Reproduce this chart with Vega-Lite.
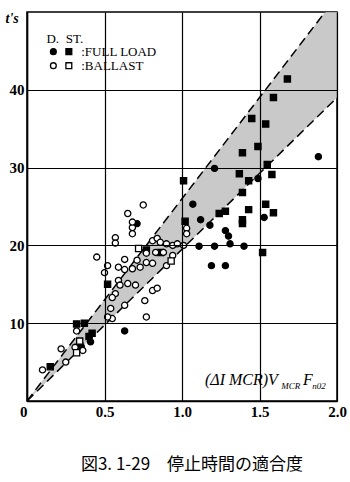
{
  "$schema": "https://vega.github.io/schema/vega-lite/v6.json",
  "width": 310,
  "height": 389,
  "autosize": "none",
  "padding": {"left": 27, "top": 12, "right": 13, "bottom": 81},
  "background": "white",
  "config": {"view": {"stroke": "black", "strokeWidth": 1.5}, "font": "Liberation Serif"},
  "title": {"text": "図3. 1-29　停止時間の適合度", "orient": "bottom", "font": "Noto Sans CJK JP", "fontSize": 17, "fontWeight": "normal", "offset": 38, "dx": 10, "color": "black"},
  "datasets": {
    "band": [{"x": 0, "lo": 0, "hi": 0}, {"x": 1.923, "lo": 37.5, "hi": 50}, {"x": 2.0, "lo": 39, "hi": 50}],
    "upper": [{"x": 0, "y": 0}, {"x": 1.95, "y": 50.7}],
    "lower": [{"x": 0, "y": 0}, {"x": 2.0, "y": 39}],
    "points": [
      {"x": 1.88, "y": 31.4, "type": "D", "load": "FULL LOAD"},
      {"x": 1.21, "y": 29.9, "type": "D", "load": "FULL LOAD"},
      {"x": 1.49, "y": 28.6, "type": "D", "load": "FULL LOAD"},
      {"x": 1.07, "y": 25.3, "type": "D", "load": "FULL LOAD"},
      {"x": 1.12, "y": 23.3, "type": "D", "load": "FULL LOAD"},
      {"x": 1.53, "y": 23.6, "type": "D", "load": "FULL LOAD"},
      {"x": 1.18, "y": 22.6, "type": "D", "load": "FULL LOAD"},
      {"x": 1.28, "y": 21.9, "type": "D", "load": "FULL LOAD"},
      {"x": 1.30, "y": 21.2, "type": "D", "load": "FULL LOAD"},
      {"x": 1.31, "y": 20.2, "type": "D", "load": "FULL LOAD"},
      {"x": 1.11, "y": 19.9, "type": "D", "load": "FULL LOAD"},
      {"x": 1.21, "y": 19.9, "type": "D", "load": "FULL LOAD"},
      {"x": 1.40, "y": 19.9, "type": "D", "load": "FULL LOAD"},
      {"x": 1.19, "y": 17.4, "type": "D", "load": "FULL LOAD"},
      {"x": 1.28, "y": 17.4, "type": "D", "load": "FULL LOAD"},
      {"x": 0.71, "y": 22.8, "type": "D", "load": "FULL LOAD"},
      {"x": 0.63, "y": 9.0, "type": "D", "load": "FULL LOAD"},
      {"x": 0.34, "y": 7.4, "type": "D", "load": "FULL LOAD"},
      {"x": 0.35, "y": 7.0, "type": "D", "load": "FULL LOAD"},
      {"x": 0.41, "y": 7.6, "type": "D", "load": "FULL LOAD"},
      {"x": 1.68, "y": 41.4, "type": "ST", "load": "FULL LOAD"},
      {"x": 1.59, "y": 39.0, "type": "ST", "load": "FULL LOAD"},
      {"x": 1.45, "y": 36.3, "type": "ST", "load": "FULL LOAD"},
      {"x": 1.54, "y": 35.6, "type": "ST", "load": "FULL LOAD"},
      {"x": 1.49, "y": 32.7, "type": "ST", "load": "FULL LOAD"},
      {"x": 1.39, "y": 31.9, "type": "ST", "load": "FULL LOAD"},
      {"x": 1.55, "y": 30.4, "type": "ST", "load": "FULL LOAD"},
      {"x": 1.58, "y": 29.1, "type": "ST", "load": "FULL LOAD"},
      {"x": 1.43, "y": 28.3, "type": "ST", "load": "FULL LOAD"},
      {"x": 1.37, "y": 29.2, "type": "ST", "load": "FULL LOAD"},
      {"x": 1.01, "y": 28.3, "type": "ST", "load": "FULL LOAD"},
      {"x": 1.39, "y": 26.8, "type": "ST", "load": "FULL LOAD"},
      {"x": 1.54, "y": 25.3, "type": "ST", "load": "FULL LOAD"},
      {"x": 1.43, "y": 24.6, "type": "ST", "load": "FULL LOAD"},
      {"x": 1.59, "y": 24.2, "type": "ST", "load": "FULL LOAD"},
      {"x": 1.24, "y": 24.1, "type": "ST", "load": "FULL LOAD"},
      {"x": 1.28, "y": 24.4, "type": "ST", "load": "FULL LOAD"},
      {"x": 1.39, "y": 23.3, "type": "ST", "load": "FULL LOAD"},
      {"x": 1.39, "y": 22.8, "type": "ST", "load": "FULL LOAD"},
      {"x": 1.52, "y": 19.1, "type": "ST", "load": "FULL LOAD"},
      {"x": 1.02, "y": 23.1, "type": "ST", "load": "FULL LOAD"},
      {"x": 0.77, "y": 19.4, "type": "ST", "load": "FULL LOAD"},
      {"x": 0.86, "y": 19.1, "type": "ST", "load": "FULL LOAD"},
      {"x": 0.52, "y": 15.0, "type": "ST", "load": "FULL LOAD"},
      {"x": 0.32, "y": 9.9, "type": "ST", "load": "FULL LOAD"},
      {"x": 0.37, "y": 10.0, "type": "ST", "load": "FULL LOAD"},
      {"x": 0.42, "y": 8.7, "type": "ST", "load": "FULL LOAD"},
      {"x": 0.40, "y": 8.3, "type": "ST", "load": "FULL LOAD"},
      {"x": 0.15, "y": 4.4, "type": "ST", "load": "FULL LOAD"},
      {"x": 0.75, "y": 25.2, "type": "D", "load": "BALLAST"},
      {"x": 0.65, "y": 24.1, "type": "D", "load": "BALLAST"},
      {"x": 0.68, "y": 22.3, "type": "D", "load": "BALLAST"},
      {"x": 0.68, "y": 21.5, "type": "D", "load": "BALLAST"},
      {"x": 0.68, "y": 23.0, "type": "D", "load": "BALLAST"},
      {"x": 0.57, "y": 21.0, "type": "D", "load": "BALLAST"},
      {"x": 0.57, "y": 20.3, "type": "D", "load": "BALLAST"},
      {"x": 0.45, "y": 18.5, "type": "D", "load": "BALLAST"},
      {"x": 0.52, "y": 17.4, "type": "D", "load": "BALLAST"},
      {"x": 0.50, "y": 16.5, "type": "D", "load": "BALLAST"},
      {"x": 0.63, "y": 18.2, "type": "D", "load": "BALLAST"},
      {"x": 0.59, "y": 17.2, "type": "D", "load": "BALLAST"},
      {"x": 0.63, "y": 16.9, "type": "D", "load": "BALLAST"},
      {"x": 0.68, "y": 17.0, "type": "D", "load": "BALLAST"},
      {"x": 0.71, "y": 18.1, "type": "D", "load": "BALLAST"},
      {"x": 0.73, "y": 17.2, "type": "D", "load": "BALLAST"},
      {"x": 0.59, "y": 15.5, "type": "D", "load": "BALLAST"},
      {"x": 0.65, "y": 15.1, "type": "D", "load": "BALLAST"},
      {"x": 0.70, "y": 14.9, "type": "D", "load": "BALLAST"},
      {"x": 0.60, "y": 14.9, "type": "D", "load": "BALLAST"},
      {"x": 0.57, "y": 13.8, "type": "D", "load": "BALLAST"},
      {"x": 0.55, "y": 13.3, "type": "D", "load": "BALLAST"},
      {"x": 0.63, "y": 12.3, "type": "D", "load": "BALLAST"},
      {"x": 0.54, "y": 11.9, "type": "D", "load": "BALLAST"},
      {"x": 0.55, "y": 10.6, "type": "D", "load": "BALLAST"},
      {"x": 0.52, "y": 10.8, "type": "D", "load": "BALLAST"},
      {"x": 0.77, "y": 10.8, "type": "D", "load": "BALLAST"},
      {"x": 0.76, "y": 12.9, "type": "D", "load": "BALLAST"},
      {"x": 0.81, "y": 14.2, "type": "D", "load": "BALLAST"},
      {"x": 0.84, "y": 14.5, "type": "D", "load": "BALLAST"},
      {"x": 0.77, "y": 17.8, "type": "D", "load": "BALLAST"},
      {"x": 0.81, "y": 17.7, "type": "D", "load": "BALLAST"},
      {"x": 0.90, "y": 17.4, "type": "D", "load": "BALLAST"},
      {"x": 0.81, "y": 20.6, "type": "D", "load": "BALLAST"},
      {"x": 0.84, "y": 20.9, "type": "D", "load": "BALLAST"},
      {"x": 0.86, "y": 20.4, "type": "D", "load": "BALLAST"},
      {"x": 0.90, "y": 20.2, "type": "D", "load": "BALLAST"},
      {"x": 0.94, "y": 20.0, "type": "D", "load": "BALLAST"},
      {"x": 0.97, "y": 20.2, "type": "D", "load": "BALLAST"},
      {"x": 0.77, "y": 19.0, "type": "D", "load": "BALLAST"},
      {"x": 0.83, "y": 19.1, "type": "D", "load": "BALLAST"},
      {"x": 0.88, "y": 19.1, "type": "D", "load": "BALLAST"},
      {"x": 0.94, "y": 18.7, "type": "D", "load": "BALLAST"},
      {"x": 1.01, "y": 20.0, "type": "D", "load": "BALLAST"},
      {"x": 1.03, "y": 22.2, "type": "D", "load": "BALLAST"},
      {"x": 1.03, "y": 21.5, "type": "D", "load": "BALLAST"},
      {"x": 0.32, "y": 9.0, "type": "D", "load": "BALLAST"},
      {"x": 0.22, "y": 6.7, "type": "D", "load": "BALLAST"},
      {"x": 0.25, "y": 5.0, "type": "D", "load": "BALLAST"},
      {"x": 0.10, "y": 4.0, "type": "D", "load": "BALLAST"},
      {"x": 0.31, "y": 6.9, "type": "D", "load": "BALLAST"},
      {"x": 0.36, "y": 6.5, "type": "D", "load": "BALLAST"},
      {"x": 0.34, "y": 7.7, "type": "ST", "load": "BALLAST"},
      {"x": 0.32, "y": 6.2, "type": "ST", "load": "BALLAST"},
      {"x": 0.72, "y": 19.6, "type": "ST", "load": "BALLAST"},
      {"x": 0.93, "y": 18.0, "type": "ST", "load": "BALLAST"}
    ],
    "legendPts": [
      {"x": 0.17, "y": 44.9, "type": "D", "load": "FULL LOAD"},
      {"x": 0.27, "y": 44.9, "type": "ST", "load": "FULL LOAD"},
      {"x": 0.17, "y": 43.1, "type": "D", "load": "BALLAST"},
      {"x": 0.27, "y": 43.1, "type": "ST", "load": "BALLAST"}
    ],
    "legendTxt": [
      {"x": 0.125, "y": 46.5, "t": "D."},
      {"x": 0.25, "y": 46.5, "t": "ST."},
      {"x": 0.35, "y": 44.9, "t": ":FULL LOAD"},
      {"x": 0.35, "y": 43.1, "t": ":BALLAST"}
    ],
    "xtMain": [
      {"x": 1.148, "y": 2.0, "t": "(ΔI MCR)V"},
      {"x": 1.78, "y": 2.0, "t": "F"}
    ],
    "xtSub": [
      {"x": 1.64, "y": 1.5, "t": "MCR"},
      {"x": 1.84, "y": 1.5, "t": "n02"}
    ]
  },
  "layer": [
    {
      "data": {"name": "band"},
      "mark": {"type": "area", "fill": "#bfbfbf", "opacity": 0.85},
      "encoding": {
        "x": {"field": "x", "type": "quantitative", "scale": {"domain": [0, 2], "nice": false, "zero": false},
          "axis": {"values": [0, 0.5, 1, 1.5, 2], "grid": true, "gridColor": "black", "gridWidth": 1.2, "gridOpacity": 1,
            "ticks": false, "domainColor": "black", "domainWidth": 1.5, "labelFont": "Liberation Serif", "labelFontWeight": "bold",
            "labelFontSize": 15, "labelColor": "black", "labelPadding": 3, "labelFlush": false, "labelOverlap": false,
            "labelAlign": {"condition": {"test": "datum.value === 0", "value": "right"}, "value": "center"},
            "labelExpr": "datum.value === 0 ? '0' : format(datum.value, '.1f')", "title": null, "zindex": 1}},
        "y": {"field": "lo", "type": "quantitative", "scale": {"domain": [0, 50], "nice": false},
          "axis": {"values": [10, 20, 30, 40], "grid": true, "gridColor": "black", "gridWidth": 1.2, "gridOpacity": 1,
            "ticks": false, "domainColor": "black", "domainWidth": 1.5, "labelFont": "Liberation Serif", "labelFontWeight": "bold",
            "labelFontSize": 15, "labelColor": "black", "labelPadding": 3,
            "title": "t's", "titleAngle": 0, "titleX": -22, "titleY": 6, "titleAlign": "left", "titleBaseline": "middle",
            "titleFont": "Liberation Serif", "titleFontStyle": "italic", "titleFontWeight": "bold", "titleFontSize": 14, "titleColor": "black", "zindex": 1}},
        "y2": {"field": "hi"}
      }
    },
    {
      "data": {"name": "upper"},
      "mark": {"type": "line", "stroke": "black", "strokeWidth": 1.5, "strokeDash": [9, 5], "clip": true},
      "encoding": {"x": {"field": "x", "type": "quantitative"}, "y": {"field": "y", "type": "quantitative"}}
    },
    {
      "data": {"name": "lower"},
      "mark": {"type": "line", "stroke": "black", "strokeWidth": 1.5, "strokeDash": [9, 5], "clip": true},
      "encoding": {"x": {"field": "x", "type": "quantitative"}, "y": {"field": "y", "type": "quantitative"}}
    },
    {
      "data": {"name": "points"},
      "mark": {"type": "point", "filled": true, "stroke": "black", "strokeWidth": 1.3, "size": 38, "opacity": 1},
      "encoding": {
        "x": {"field": "x", "type": "quantitative"},
        "y": {"field": "y", "type": "quantitative"},
        "shape": {"field": "type", "type": "nominal", "scale": {"domain": ["D", "ST"], "range": ["circle", "square"]}, "legend": null},
        "fill": {"field": "load", "type": "nominal", "scale": {"domain": ["FULL LOAD", "BALLAST"], "range": ["black", "white"]}, "legend": null}
      }
    },
    {
      "data": {"name": "legendPts"},
      "mark": {"type": "point", "filled": true, "stroke": "black", "strokeWidth": 1.3, "size": 34, "opacity": 1},
      "encoding": {
        "x": {"field": "x", "type": "quantitative"},
        "y": {"field": "y", "type": "quantitative"},
        "shape": {"field": "type", "type": "nominal"},
        "fill": {"field": "load", "type": "nominal"}
      }
    },
    {
      "data": {"name": "legendTxt"},
      "mark": {"type": "text", "align": "left", "baseline": "middle", "font": "Liberation Serif", "fontSize": 13, "color": "black"},
      "encoding": {"x": {"field": "x", "type": "quantitative"}, "y": {"field": "y", "type": "quantitative"}, "text": {"field": "t"}}
    },
    {
      "data": {"name": "xtMain"},
      "mark": {"type": "text", "align": "left", "baseline": "alphabetic", "font": "Liberation Serif", "fontStyle": "italic", "fontSize": 16, "color": "black"},
      "encoding": {"x": {"field": "x", "type": "quantitative"}, "y": {"field": "y", "type": "quantitative"}, "text": {"field": "t"}}
    },
    {
      "data": {"name": "xtSub"},
      "mark": {"type": "text", "align": "left", "baseline": "alphabetic", "font": "Liberation Serif", "fontStyle": "italic", "fontSize": 9, "color": "black"},
      "encoding": {"x": {"field": "x", "type": "quantitative"}, "y": {"field": "y", "type": "quantitative"}, "text": {"field": "t"}}
    }
  ]
}
